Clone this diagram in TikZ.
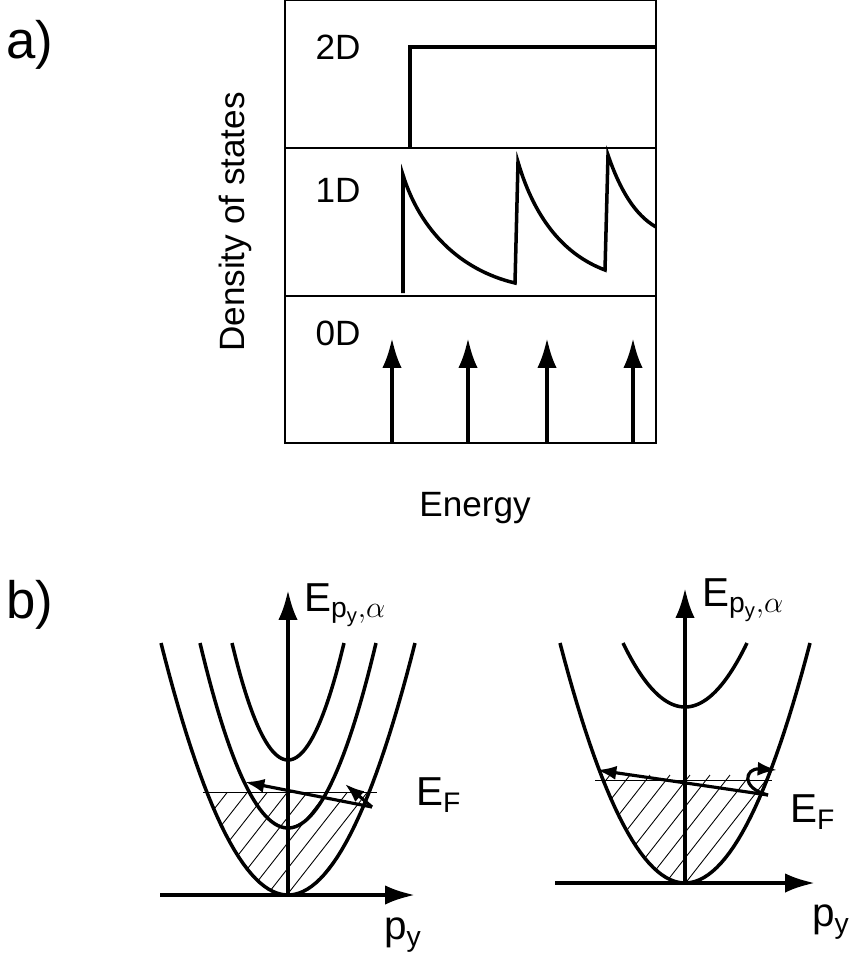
\documentclass[tikz,border=0pt]{standalone}
\usepackage{fontspec}
\setmainfont{Liberation Sans}
\usetikzlibrary{arrows.meta}
\begin{document}
\begin{tikzpicture}[x=0.02cm,y=-0.02cm,
  box/.style={line width=1.4pt},
  crv/.style={line width=2pt},
  arr/.style={line width=2.2pt,-{Latex[length=17pt,width=11pt]}},
  sarr/.style={line width=1.8pt,-{Latex[length=11pt,width=8pt]}},
  lab/.style={font=\fontsize{20}{24}\selectfont},
  big/.style={font=\fontsize{30}{34}\selectfont},
  sym/.style={anchor=west,font=\fontsize{23}{26}\selectfont}]
\useasboundingbox (0,0) rectangle (850,960);
% panel a
\draw[box] (285,0) rectangle (656,443);
\draw[box] (285,148) -- (656,148);
\draw[box] (285,296) -- (656,296);
\node[lab] (t2) at (338,47) {2D};
\node[lab] (t1) at (338,190) {1D};
\node[lab] (t0) at (338,333) {0D};
\draw[crv] (410,148) -- (410,47) -- (656,47);
\draw[crv] (403,293) -- (403,175) .. controls (420,230) and (460,270) .. (515,283) -- (518,162) .. controls (535,220) and (565,255) .. (605,270) -- (608,155) .. controls (620,190) and (635,215) .. (656,227);
\foreach \xx in {392,468,547,633} \draw[arr] (\xx,443) -- (\xx,338);
\node[lab,rotate=90] (dos) at (235,222) {Density of states};
\node[lab] (en) at (475,508) {Energy};
\node[big] (la) at (30,45) {a)};
\node[big] (lb) at (30,605) {b)};
% panel b left
\begin{scope}
\clip plot[domain=-81:81] ({288+\x},{895-252*(\x/127)^2}) -- cycle;
\foreach \i in {-200,-180,...,200} \draw[line width=0.5pt] (288+\i-45,900) -- (288+\i+45,785);
\end{scope}
\draw[line width=0.5pt] (203,792) -- (377,792);
\draw[crv] plot[domain=-127:127,samples=60] ({288+\x},{895-252*(\x/127)^2});
\draw[crv] plot[domain=-88:88,samples=60] ({288+\x},{828-185*(\x/88)^2});
\draw[crv] plot[domain=-56:56,samples=60] ({288+\x},{760-117*(\x/56)^2});
\draw[arr] (160,895) -- (415,895);
\draw[arr] (288,895) -- (288,590);
\coordinate (lp) at (372,807);
\draw[sarr] (lp) -- (245,782);
\draw[sarr] (lp) -- (345,784);
\node[sym] (le) at (298,605) {E$_{\mathrm{p_y,\alpha}}$};
\node[sym] (lf) at (410,795) {E$_{\mathrm F}$};
\node[sym] (lpy) at (378,935) {p$_{\mathrm y}$};
% panel b right
\begin{scope}
\clip plot[domain=-90:90] ({685+\x},{883-240*(\x/125)^2}) -- cycle;
\foreach \i in {-200,-180,...,200} \draw[line width=0.5pt] (685+\i-45,890) -- (685+\i+45,775);
\end{scope}
\draw[line width=0.5pt] (595,780) -- (772,780);
\draw[crv] plot[domain=-125:125,samples=60] ({685+\x},{883-240*(\x/125)^2});
\draw[crv] plot[domain=-62:62,samples=60] ({685+\x},{707-64*(\x/62)^2});
\draw[arr] (555,883) -- (815,883);
\draw[arr] (685,883) -- (685,588);
\coordinate (rp) at (768,795);
\draw[sarr] (rp) -- (597,770);
\draw[sarr] (rp) .. controls (740,788) and (745,768) .. (777,770);
\node[sym] (re) at (696,600) {E$_{\mathrm{p_y,\alpha}}$};
\node[sym] (rf) at (784,812) {E$_{\mathrm F}$};
\node[sym] (rpy) at (806,922) {p$_{\mathrm y}$};
\end{tikzpicture}
\end{document}
